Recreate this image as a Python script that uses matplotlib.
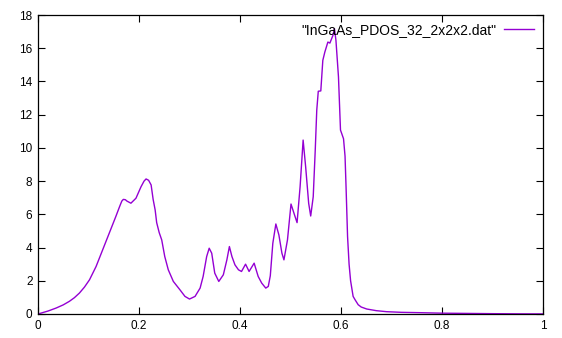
import matplotlib
matplotlib.use("Agg")
import matplotlib.pyplot as plt
from matplotlib.ticker import FuncFormatter

energy = [0.000, 0.010, 0.020, 0.036, 0.050, 0.062, 0.072, 0.082, 0.092, 0.102, 0.115,
          0.128, 0.141, 0.154, 0.162, 0.166, 0.169, 0.173,
          0.176, 0.184, 0.194, 0.204, 0.210, 0.214, 0.219, 0.224, 0.228, 0.232, 0.235, 0.240,
          0.245, 0.251, 0.258, 0.268, 0.281, 0.291, 0.300, 0.311, 0.321, 0.327, 0.334,
          0.339, 0.344, 0.350, 0.358, 0.367, 0.374, 0.379, 0.384, 0.390, 0.397, 0.403,
          0.411, 0.418, 0.428, 0.436, 0.443, 0.451, 0.456, 0.460, 0.465, 0.471, 0.477,
          0.483, 0.487, 0.494, 0.501, 0.508, 0.513, 0.519, 0.525, 0.530, 0.536, 0.540,
          0.545, 0.549, 0.552, 0.555, 0.560, 0.564, 0.568, 0.574, 0.578, 0.584, 0.587,
          0.590, 0.595, 0.599, 0.601, 0.605, 0.608, 0.610, 0.613, 0.616, 0.619, 0.624,
          0.628, 0.634, 0.640, 0.651, 0.670, 0.690, 0.720, 0.756, 0.800, 0.850, 0.900,
          0.950, 1.000]
pdos = [0.00, 0.09, 0.18, 0.36, 0.55, 0.76, 0.98, 1.26, 1.62, 2.06, 2.86,
        3.86, 4.86, 5.86, 6.50, 6.80, 6.90, 6.88,
        6.80, 6.67, 6.97, 7.66, 8.00, 8.13, 8.05, 7.77, 6.90, 6.26, 5.50, 4.90,
        4.46, 3.46, 2.66, 1.96, 1.46, 1.06, 0.90, 1.06, 1.56, 2.26, 3.46,
        3.96, 3.66, 2.46, 1.96, 2.36, 3.26, 4.06, 3.46, 2.96, 2.66, 2.56,
        3.00, 2.56, 3.06, 2.26, 1.86, 1.56, 1.66, 2.30, 4.26, 5.42, 4.76,
        3.66, 3.26, 4.46, 6.62, 5.96, 5.50, 7.66, 10.47, 8.86, 6.66, 5.90,
        7.06, 9.87, 12.27, 13.41, 13.43, 15.27, 15.77, 16.37, 16.31, 16.77, 17.18,
        16.47, 14.27, 11.07, 10.90, 10.55, 9.50, 7.66, 4.66, 3.00, 2.00, 1.06,
        0.85, 0.56, 0.42, 0.30, 0.20, 0.14, 0.10, 0.08, 0.05, 0.035, 0.02,
        0.01, 0.005]

label = '"InGaAs_PDOS_32_2x2x2.dat"'

plt.rcParams['font.family'] = ['Liberation Sans', 'DejaVu Sans']

fig = plt.figure(figsize=(5.62, 3.38), dpi=100)
ax = fig.add_axes([38/562, 24/338, 505/562, 299/338])
ax.plot(energy, pdos, color='#9400D3', lw=1.0, label=label)

ax.set_xlim(0, 1)
ax.set_ylim(0, 18)
ax.set_xticks([0, 0.2, 0.4, 0.6, 0.8, 1.0])
ax.set_yticks(range(0, 19, 2))
ax.xaxis.set_major_formatter(FuncFormatter(lambda v, p: f"{v:g}"))
ax.tick_params(direction='in', top=True, right=True, length=5, width=0.8,
               labelsize=8.5, colors='black', pad=4)
for s in ax.spines.values():
    s.set_linewidth(0.9)

leg = ax.legend(loc='upper right', frameon=False, markerfirst=False,
                handlelength=2.1, handletextpad=0.6, fontsize=10,
                borderaxespad=0.2, bbox_to_anchor=(0.998, 1.0))

fig.savefig('out.png', dpi=100)
